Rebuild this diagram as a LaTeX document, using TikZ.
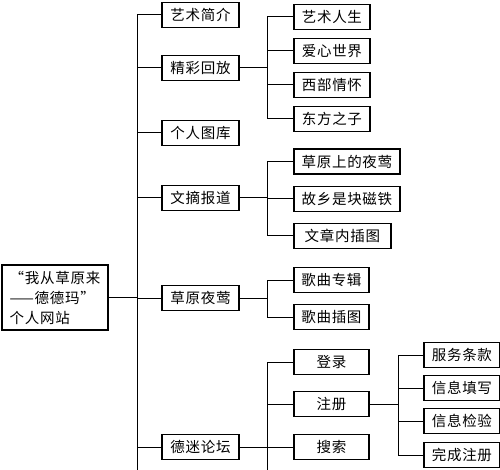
\documentclass[tikz,border=0pt]{standalone}
\usepackage{fontspec}
\newfontfamily\cjk[LetterSpace=5]{Noto Sans CJK SC}
\begin{document}
\begin{tikzpicture}[x=1pt,y=-1pt,
    box/.style={draw,line width=1.8pt,font=\cjk\fontsize{14.5}{20}\selectfont,minimum height=25pt,inner sep=2pt},
    lone/.style={box,minimum width=77pt},
    ltwo/.style={box,minimum width=76pt,anchor=west},
    link/.style={line width=1pt}]
\useasboundingbox (0,0) rectangle (500,470);
% root
\node[box,minimum width=106pt,minimum height=65pt,align=left] (root) at (55,297.5) {“我从草原来\\——德德玛”\\个人网站};
% first level
\node[lone] (jianjie) at (200.5,15) {艺术简介};
\node[lone] (huifang) at (200.5,68) {精彩回放};
\node[lone] (tuku) at (200.5,133) {个人图库};
\node[lone] (wenzhai) at (200.5,198) {文摘报道};
\node[lone] (yeying) at (200.5,298) {草原夜莺};
\node[lone] (luntan) at (200.5,447) {德迷论坛};
% second level
\node[ltwo] (rensheng) at (293,17) {艺术人生};
\node[ltwo] (aixin) at (293,51) {爱心世界};
\node[ltwo] (xibu) at (293,85) {西部情怀};
\node[ltwo] (dongfang) at (293,119) {东方之子};
\node[ltwo,minimum width=106pt] (caoyuan) at (293,161.5) {草原上的夜莺};
\node[ltwo,minimum width=106pt] (guxiang) at (293,199) {故乡是块磁铁};
\node[ltwo,minimum width=97pt] (chatu) at (293,236) {文章内插图};
\node[ltwo,minimum width=75pt] (zhuanji) at (293,280) {歌曲专辑};
\node[ltwo,minimum width=75pt] (gequ) at (293,317) {歌曲插图};
\node[ltwo,minimum width=75pt] (denglu) at (293,362) {登录};
\node[ltwo,minimum width=75pt] (zhuce) at (293,404) {注册};
\node[ltwo,minimum width=75pt] (sousuo) at (293,447) {搜索};
% third level
\node[ltwo] (tiaokuan) at (423,355) {服务条款};
\node[ltwo] (tianxie) at (423,388) {信息填写};
\node[ltwo] (jianyan) at (423,421) {信息检验};
\node[ltwo] (wancheng) at (423,455) {完成注册};
% connectors
\draw[link] (root.east) -- ++(29,0) coordinate (trunk);
\draw[link] (trunk) -- (trunk |- 0,470);
\foreach \n in {jianjie,huifang,tuku,wenzhai,yeying,luntan}
    \draw[link] (trunk) |- (\n.west);
\draw[link] (huifang.east) -- ++(28,0) coordinate (h1);
\foreach \n in {rensheng,aixin,xibu,dongfang}
    \draw[link] (h1) |- (\n.west);
\draw[link] (wenzhai.east) -- ++(28,0) coordinate (w1);
\foreach \n in {caoyuan,guxiang,chatu}
    \draw[link] (w1) |- (\n.west);
\draw[link] (yeying.east) -- ++(28,0) coordinate (y1);
\foreach \n in {zhuanji,gequ}
    \draw[link] (y1) |- (\n.west);
\draw[link] (luntan.east) -- ++(28,0) coordinate (l1);
\draw[link] (l1) -- (l1 |- 0,470);
\foreach \n in {denglu,zhuce,sousuo}
    \draw[link] (l1) |- (\n.west);
\draw[link] (zhuce.east) -- ++(29,0) coordinate (z1);
\foreach \n in {tiaokuan,tianxie,jianyan,wancheng}
    \draw[link] (z1) |- (\n.west);
\end{tikzpicture}
\end{document}
